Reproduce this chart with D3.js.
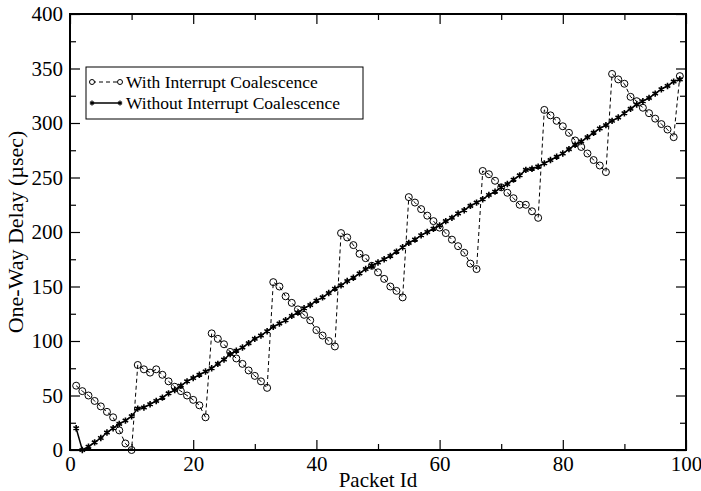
<!DOCTYPE html>
<html>
<head>
<meta charset="utf-8">
<script src="https://cdn.jsdelivr.net/npm/d3@7/dist/d3.min.js"></script>
<style>
  body { margin: 0; background: #fff; }
  text { font-family: "Liberation Serif", "Times New Roman", serif; fill: #000; }
</style>
</head>
<body>
<div id="canvas"></div>
<script>
// packet ids 1..99
var packetIds = d3.range(1, 100);

// one-way delay with interrupt coalescence (usec)
var withIC = [
  59, 54, 50, 45, 40, 35, 30, 18, 6, 0,
  78, 74, 71, 74, 69, 63, 58, 54, 50, 46, 41, 30,
  107, 102, 97, 90, 84, 79, 73, 68, 63, 57,
  154, 150, 141, 135, 129, 124, 119, 110, 105, 100, 95,
  199, 195, 188, 180, 176, 169, 163, 157, 150, 146, 140,
  232, 227, 221, 215, 210, 204, 199, 193, 187, 181, 171, 166,
  256, 253, 247, 241, 236, 231, 225, 225, 219, 213,
  312, 307, 302, 297, 291, 284, 278, 272, 266, 261, 255,
  345, 340, 336, 324, 320, 314, 309, 304, 299, 294, 287,
  343
];

// one-way delay without interrupt coalescence (usec)
var withoutIC = [
  20, 0, 3, 7, 11, 16, 20, 24, 27, 31,
  38, 39, 42, 45, 48, 52, 55, 59, 63, 66,
  69, 72, 75, 79, 83, 88, 91, 94, 98, 102,
  105, 109, 113, 116, 119, 123, 126, 130, 133, 137,
  140, 144, 148, 151, 155, 158, 162, 166, 169, 172,
  175, 178, 182, 186, 190, 193, 197, 200, 203, 206,
  210, 213, 217, 220, 224, 227, 230, 234, 237, 241,
  244, 248, 252, 257, 258, 260, 263, 266, 269, 272,
  276, 280, 283, 287, 291, 295, 298, 302, 305, 309,
  313, 317, 320, 323, 327, 331, 334, 338, 340
];

var xTicks = [0, 20, 40, 60, 80, 100];
var xMinor = [10, 30, 50, 70, 90];
var yTicks = [0, 50, 100, 150, 200, 250, 300, 350, 400];
var yMinor = [25, 75, 125, 175, 225, 275, 325, 375];

var seriesNames = ["With Interrupt Coalescence", "Without Interrupt Coalescence"];

var width = 701, height = 491;
var margin = {top: 14, right: 15, bottom: 41, left: 70};
var pw = width - margin.left - margin.right,
    ph = height - margin.top - margin.bottom;

var svg = d3.select("#canvas").append("svg")
    .attr("width", width)
    .attr("height", height);

var g = svg.append("g")
    .attr("transform", "translate(" + margin.left + "," + margin.top + ")");

var x = d3.scaleLinear().domain([0, 100]).range([0, pw]);
var y = d3.scaleLinear().domain([0, 400]).range([ph, 0]);

// ticks on all four sides, pointing inward
function tickAxis(axis, tr) {
  var a = g.append("g").attr("transform", tr).call(axis);
  a.select(".domain").remove();
  a.selectAll("line").attr("stroke", "#000").attr("stroke-width", 1.2);
  return a;
}

var bx = tickAxis(d3.axisBottom(x).tickValues(xTicks).tickSize(-10).tickPadding(6).tickFormat(d3.format("d")), "translate(0," + ph + ")");
bx.selectAll("text").attr("font-size", 21);
tickAxis(d3.axisBottom(x).tickValues(xMinor).tickSize(-6).tickFormat(""), "translate(0," + ph + ")");
tickAxis(d3.axisTop(x).tickValues(xTicks).tickSize(-10).tickFormat(""), "translate(0,0)");
tickAxis(d3.axisTop(x).tickValues(xMinor).tickSize(-6).tickFormat(""), "translate(0,0)");

var ly = tickAxis(d3.axisLeft(y).tickValues(yTicks).tickSize(-10).tickPadding(7).tickFormat(d3.format("d")), "translate(0,0)");
ly.selectAll("text").attr("font-size", 21);
tickAxis(d3.axisLeft(y).tickValues(yMinor).tickSize(-6).tickFormat(""), "translate(0,0)");
tickAxis(d3.axisRight(y).tickValues(yTicks).tickSize(-10).tickFormat(""), "translate(" + pw + ",0)");
tickAxis(d3.axisRight(y).tickValues(yMinor).tickSize(-6).tickFormat(""), "translate(" + pw + ",0)");

// frame
g.append("rect")
    .attr("width", pw)
    .attr("height", ph)
    .attr("fill", "none")
    .attr("stroke", "#000")
    .attr("stroke-width", 2);

// series data
var dWith = packetIds.map(function(d, i) { return [d, withIC[i]]; });
var dWithout = packetIds.map(function(d, i) { return [d, withoutIC[i]]; });

var line = d3.line()
    .x(function(d) { return x(d[0]); })
    .y(function(d) { return y(d[1]); });

g.append("path")
    .datum(dWith)
    .attr("d", line)
    .attr("fill", "none")
    .attr("stroke", "#000")
    .attr("stroke-width", 1)
    .attr("stroke-dasharray", "4,3");

g.append("path")
    .datum(dWithout)
    .attr("d", line)
    .attr("fill", "none")
    .attr("stroke", "#000")
    .attr("stroke-width", 1.5);

g.selectAll(".circ")
    .data(dWith)
    .enter().append("circle")
    .attr("class", "circ")
    .attr("cx", function(d) { return x(d[0]); })
    .attr("cy", function(d) { return y(d[1]); })
    .attr("r", 3.5)
    .attr("fill", "none")
    .attr("stroke", "#000")
    .attr("stroke-width", 1);

var star = d3.symbol().type(d3.symbolAsterisk).size(28);
g.selectAll(".star")
    .data(dWithout)
    .enter().append("path")
    .attr("class", "star")
    .attr("d", star)
    .attr("transform", function(d) { return "translate(" + x(d[0]) + "," + y(d[1]) + ")"; })
    .attr("fill", "none")
    .attr("stroke", "#000")
    .attr("stroke-width", 1.6);

// axis titles
svg.append("text")
    .attr("x", margin.left + pw / 2)
    .attr("y", 487)
    .attr("text-anchor", "middle")
    .attr("font-size", 21)
    .text("Packet Id");

svg.append("text")
    .attr("transform", "translate(23," + (margin.top + ph / 2) + ") rotate(-90)")
    .attr("text-anchor", "middle")
    .attr("font-size", 22)
    .text("One-Way Delay (\u00b5sec)");

// legend
var lg = svg.append("g").attr("transform", "translate(86,67)");
lg.append("rect")
    .attr("width", 277)
    .attr("height", 52)
    .attr("fill", "#fff")
    .attr("stroke", "#000")
    .attr("stroke-width", 1);

var rows = [15, 36];
// row 1: dashed with circles
lg.append("line")
    .attr("x1", 6).attr("x2", 34)
    .attr("y1", rows[0]).attr("y2", rows[0])
    .attr("stroke", "#000").attr("stroke-dasharray", "4,3");
lg.selectAll(".lc").data([6, 34]).enter().append("circle")
    .attr("cx", function(d) { return d; }).attr("cy", rows[0]).attr("r", 2.5)
    .attr("fill", "#fff").attr("stroke", "#000");
// row 2: solid with stars
lg.append("line")
    .attr("x1", 6).attr("x2", 34)
    .attr("y1", rows[1]).attr("y2", rows[1])
    .attr("stroke", "#000").attr("stroke-width", 1.5);
lg.selectAll(".ls").data([6, 34]).enter().append("path")
    .attr("d", d3.symbol().type(d3.symbolAsterisk).size(16))
    .attr("transform", function(d) { return "translate(" + d + "," + rows[1] + ")"; })
    .attr("stroke", "#000").attr("stroke-width", 1.3);

lg.selectAll(".lt").data(seriesNames).enter().append("text")
    .attr("x", 40)
    .attr("y", function(d, i) { return rows[i] + 6; })
    .attr("font-size", 17.5)
    .text(function(d) { return d; });
</script>
</body>
</html>
